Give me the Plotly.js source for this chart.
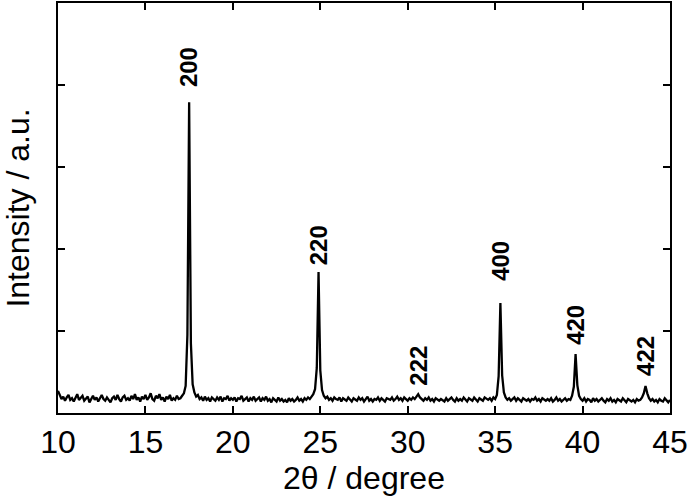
<!DOCTYPE html>
<html>
<head>
<meta charset="utf-8">
<script src="https://cdn.plot.ly/plotly-3.0.1.min.js"></script>
<style>
  body { margin: 0; background: #fff; }
  #graph { width: 690px; height: 498px; }
</style>
</head>
<body>
<div id="graph"></div>
<script>
// scan: 2theta from 10 to 45 deg, 0.1 deg step
var scanStart = 10;
var scanStep = 0.1;

// intensity, one row per degree
var intensity = [
    0.27,0.21,0.17,0.20,0.15,0.19,0.22,0.16,0.18,0.14,
    0.19,0.23,0.16,0.18,0.21,0.15,0.17,0.20,0.13,0.18,
    0.21,0.16,0.19,0.14,0.18,0.22,0.17,0.15,0.19,0.16,
    0.13,0.18,0.20,0.16,0.22,0.17,0.14,0.19,0.21,0.16,
    0.18,0.15,0.21,0.17,0.23,0.16,0.19,0.14,0.20,0.17,
    0.22,0.16,0.19,0.24,0.17,0.15,0.21,0.18,0.23,0.16,
    0.19,0.14,0.20,0.17,0.22,0.15,0.18,0.16,0.21,0.17,
    0.18,0.21,0.24,0.33,0.95,3.79,0.85,0.35,0.25,0.20,
    0.22,0.17,0.19,0.15,0.20,0.16,0.18,0.14,0.19,0.17,
    0.15,0.19,0.16,0.20,0.14,0.18,0.17,0.21,0.15,0.18,
    0.16,0.19,0.14,0.18,0.17,0.21,0.15,0.17,0.19,0.14,
    0.18,0.16,0.20,0.15,0.17,0.19,0.14,0.18,0.16,0.20,
    0.15,0.17,0.13,0.18,0.16,0.14,0.19,0.15,0.17,0.14,
    0.16,0.13,0.18,0.15,0.17,0.14,0.16,0.19,0.15,0.17,
    0.14,0.18,0.16,0.19,0.17,0.20,0.23,0.29,0.55,1.72,
    0.52,0.28,0.21,0.18,0.20,0.16,0.18,0.15,0.19,0.17,
    0.16,0.19,0.14,0.18,0.17,0.15,0.19,0.16,0.14,0.18,
    0.17,0.15,0.19,0.16,0.18,0.14,0.17,0.20,0.15,0.17,
    0.14,0.17,0.16,0.19,0.15,0.18,0.16,0.14,0.18,0.17,
    0.16,0.19,0.15,0.17,0.20,0.16,0.18,0.15,0.19,0.17,
    0.15,0.18,0.16,0.19,0.17,0.20,0.23,0.19,0.17,0.15,
    0.18,0.16,0.19,0.15,0.17,0.14,0.18,0.16,0.15,0.17,
    0.16,0.14,0.18,0.15,0.17,0.19,0.16,0.14,0.18,0.15,
    0.17,0.15,0.19,0.16,0.14,0.18,0.17,0.15,0.19,0.16,
    0.14,0.18,0.16,0.15,0.19,0.17,0.16,0.18,0.15,0.19,
    0.17,0.22,0.45,1.34,0.46,0.25,0.19,0.16,0.18,0.15,
    0.17,0.19,0.15,0.18,0.16,0.14,0.18,0.16,0.15,0.17,
    0.14,0.17,0.16,0.19,0.15,0.17,0.14,0.18,0.16,0.15,
    0.17,0.15,0.18,0.14,0.16,0.19,0.15,0.17,0.14,0.16,
    0.18,0.15,0.17,0.16,0.21,0.32,0.72,0.34,0.21,0.17,
    0.15,0.18,0.14,0.17,0.16,0.13,0.18,0.15,0.17,0.14,
    0.16,0.18,0.15,0.13,0.17,0.15,0.18,0.14,0.16,0.13,
    0.17,0.15,0.14,0.18,0.16,0.13,0.17,0.15,0.14,0.16,
    0.13,0.17,0.15,0.16,0.19,0.24,0.33,0.24,0.18,0.15,
    0.17,0.14,0.16,0.13,0.17,0.15,0.14,0.18,0.15,0.13,
    0.16
];

// reflections (hkl) and where their labels sit
var peakLabels = ['200', '220', '222', '400', '420', '422'];
var peakPos    = [17.5, 24.9, 30.6, 35.3, 39.6, 43.6];
var labelY     = [4.22, 2.04, 0.58, 1.86, 1.07, 0.69];

var trace = {
    type: 'scatter',
    mode: 'lines',
    x0: scanStart,
    dx: scanStep,
    y: intensity,
    line: {color: '#000', width: 2.3},
    hoverinfo: 'skip'
};

var annotations = [];
for (var i = 0; i < peakLabels.length; i++) {
    annotations.push({
        x: peakPos[i],
        y: labelY[i],
        xref: 'x',
        yref: 'y',
        text: '<b>' + peakLabels[i] + '</b>',
        textangle: -90,
        showarrow: false,
        xanchor: 'center',
        yanchor: 'middle',
        font: {family: 'Arial, Liberation Sans, sans-serif', size: 24, color: '#000'}
    });
}

var axisFont = {family: 'Arial, Liberation Sans, sans-serif', size: 32, color: '#000'};

var layout = {
    width: 690,
    height: 498,
    margin: {l: 58, r: 20, t: 3, b: 85},
    paper_bgcolor: '#fff',
    plot_bgcolor: '#fff',
    showlegend: false,
    font: axisFont,
    xaxis: {
        range: [10, 45],
        dtick: 5,
        tick0: 10,
        ticks: 'inside',
        ticklen: 7,
        tickwidth: 2,
        tickcolor: '#000',
        showline: true,
        linewidth: 2,
        linecolor: '#000',
        mirror: 'ticks',
        showgrid: false,
        zeroline: false,
        tickfont: axisFont,
        title: {text: '2θ / degree', font: axisFont, standoff: 2}
    },
    yaxis: {
        range: [0, 5],
        dtick: 1,
        tick0: 0,
        ticks: 'inside',
        ticklen: 7,
        tickwidth: 2,
        tickcolor: '#000',
        showline: true,
        linewidth: 2,
        linecolor: '#000',
        mirror: 'ticks',
        showgrid: false,
        zeroline: false,
        showticklabels: false,
        title: {text: 'Intensity / a.u.', font: axisFont, standoff: 20}
    },
    annotations: annotations
};

Plotly.newPlot(document.getElementById('graph'), [trace], layout, {displayModeBar: false, staticPlot: true});
</script>
</body>
</html>
